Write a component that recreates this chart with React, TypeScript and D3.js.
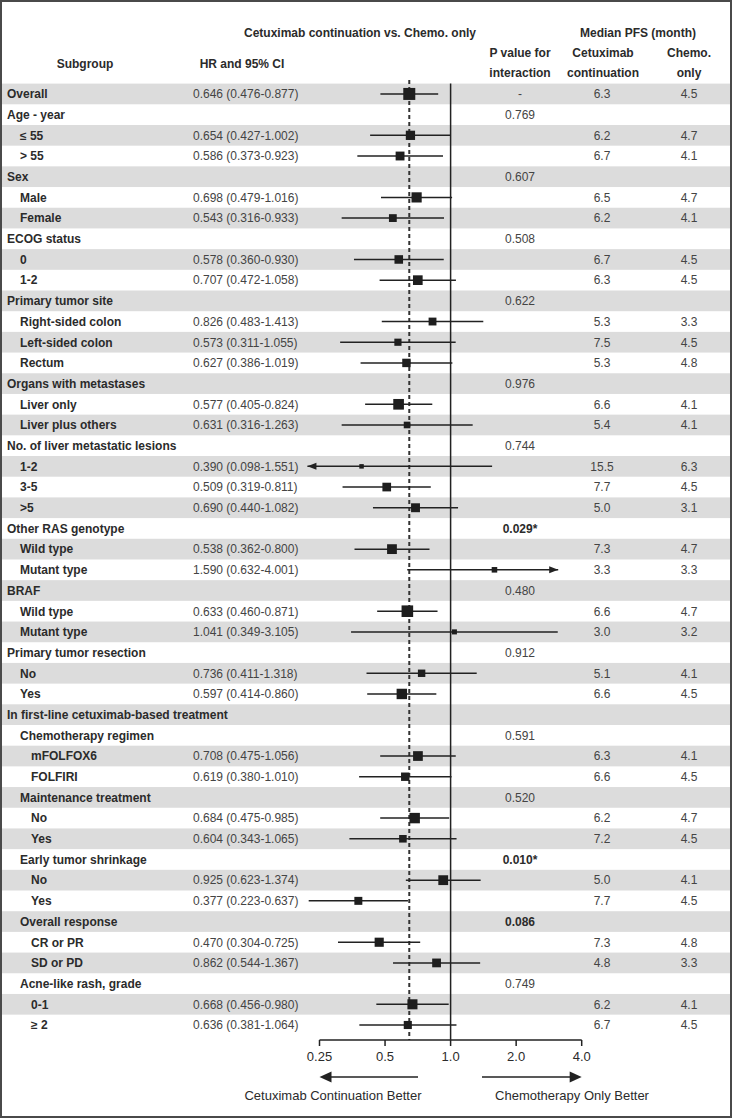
import React from 'react';
import * as d3 from 'd3';

// subgroup table, one entry per row (top to bottom)
const subgroups = [
  'Overall', 'Age - year', '≤ 55', '> 55', 'Sex', 'Male', 'Female',
  'ECOG status', '0', '1-2', 'Primary tumor site', 'Right-sided colon', 'Left-sided colon', 'Rectum',
  'Organs with metastases', 'Liver only', 'Liver plus others',
  'No. of liver metastatic lesions', '1-2', '3-5', '>5',
  'Other RAS genotype', 'Wild type', 'Mutant type', 'BRAF', 'Wild type', 'Mutant type',
  'Primary tumor resection', 'No', 'Yes', 'In first-line cetuximab-based treatment',
  'Chemotherapy regimen', 'mFOLFOX6', 'FOLFIRI', 'Maintenance treatment', 'No', 'Yes',
  'Early tumor shrinkage', 'No', 'Yes', 'Overall response', 'CR or PR', 'SD or PD',
  'Acne-like rash, grade', '0-1', '≥ 2',
];
const depth = [
  0, 0, 1, 1, 0, 1, 1,
  0, 1, 1, 0, 1, 1, 1,
  0, 1, 1,
  0, 1, 1, 1,
  0, 1, 1, 0, 1, 1,
  0, 1, 1, 0,
  1, 2, 2, 1, 2, 2,
  1, 2, 2, 1, 2, 2,
  1, 2, 2,
];
const hrEst = [
  0.646, null, 0.654, 0.586, null, 0.698, 0.543,
  null, 0.578, 0.707, null, 0.826, 0.573, 0.627,
  null, 0.577, 0.631,
  null, 0.390, 0.509, 0.690,
  null, 0.538, 1.590, null, 0.633, 1.041,
  null, 0.736, 0.597, null,
  null, 0.708, 0.619, null, 0.684, 0.604,
  null, 0.925, 0.377, null, 0.470, 0.862,
  null, 0.668, 0.636,
];
const ciLow = [
  0.476, null, 0.427, 0.373, null, 0.479, 0.316,
  null, 0.360, 0.472, null, 0.483, 0.311, 0.386,
  null, 0.405, 0.316,
  null, 0.098, 0.319, 0.440,
  null, 0.362, 0.632, null, 0.460, 0.349,
  null, 0.411, 0.414, null,
  null, 0.475, 0.380, null, 0.475, 0.343,
  null, 0.623, 0.223, null, 0.304, 0.544,
  null, 0.456, 0.381,
];
const ciHigh = [
  0.877, null, 1.002, 0.923, null, 1.016, 0.933,
  null, 0.930, 1.058, null, 1.413, 1.055, 1.019,
  null, 0.824, 1.263,
  null, 1.551, 0.811, 1.082,
  null, 0.800, 4.001, null, 0.871, 3.105,
  null, 1.318, 0.860, null,
  null, 1.056, 1.010, null, 0.985, 1.065,
  null, 1.374, 0.637, null, 0.725, 1.367,
  null, 0.980, 1.064,
];
const pInteraction = [
  '-', '0.769', '', '', '0.607', '', '',
  '0.508', '', '', '0.622', '', '', '',
  '0.976', '', '',
  '0.744', '', '', '',
  '0.029*', '', '', '0.480', '', '',
  '0.912', '', '', '',
  '0.591', '', '', '0.520', '', '',
  '0.010*', '', '', '0.086', '', '',
  '0.749', '', '',
];
const pfsCetux = [
  '6.3', '', '6.2', '6.7', '', '6.5', '6.2',
  '', '6.7', '6.3', '', '5.3', '7.5', '5.3',
  '', '6.6', '5.4',
  '', '15.5', '7.7', '5.0',
  '', '7.3', '3.3', '', '6.6', '3.0',
  '', '5.1', '6.6', '',
  '', '6.3', '6.6', '', '6.2', '7.2',
  '', '5.0', '7.7', '', '7.3', '4.8',
  '', '6.2', '6.7',
];
const pfsChemo = [
  '4.5', '', '4.7', '4.1', '', '4.7', '4.1',
  '', '4.5', '4.5', '', '3.3', '4.5', '4.8',
  '', '4.1', '4.1',
  '', '6.3', '4.5', '3.1',
  '', '4.7', '3.3', '', '4.7', '3.2',
  '', '4.1', '4.5', '',
  '', '4.1', '4.5', '', '4.7', '4.5',
  '', '4.1', '4.5', '', '4.8', '3.3',
  '', '4.1', '4.5',
];
const xTicks = [0.25, 0.5, 1, 2, 4];
const xTickLabels = ['0.25', '0.5', '1.0', '2.0', '4.0'];
const overallHR = 0.646;

const W = 732;
const H = 1119;
const FONT = '"Liberation Sans", Arial, Helvetica, sans-serif';
const TEXT = '#2b2b2b';
const VALUE = '#444';
const BAND = '#dcdcdc';

const App = () => {
  const x = d3.scaleLog().base(2).domain([0.25, 4]).range([319.5, 581.7]);
  const rowH = 20.69;
  const top = 83.6;
  const y = d3.scaleBand<number>()
    .domain(d3.range(subgroups.length))
    .range([top, top + rowH * subgroups.length]);
  const cy = (i: number) => (y(i) as number) + y.bandwidth() / 2;

  // box size from precision of the estimate
  const box = d3.scaleLinear().domain([0.362, 1.637]).range([4.5, 12]);

  const clipLo = 0.22;
  const clipHi = 3.12;
  const axisY = 1040;
  const indentX = [7, 20, 31];

  return (
    <svg width={W} height={H} style={{ position: 'absolute', left: 0, top: 0, background: '#fff' }}
      fontFamily={FONT}>
      {/* alternating row bands */}
      {subgroups.map((_, i) => i % 2 === 0 ? (
        <rect key={'b' + i} x={2} y={y(i)} width={W - 4} height={y.bandwidth()} fill={BAND} />
      ) : null)}

      {/* headers */}
      <g fontWeight="bold" fill={TEXT} fontSize={12} textAnchor="middle">
        <text x={360} y={37}>Cetuximab continuation vs. Chemo. only</text>
        <text x={638} y={37}>Median PFS (month)</text>
        <text x={85} y={68}>Subgroup</text>
        <text x={242} y={68}>HR and 95% CI</text>
        <text x={520} y={57}>P value for</text>
        <text x={520} y={77}>interaction</text>
        <text x={603} y={57}>Cetuximab</text>
        <text x={603} y={77}>continuation</text>
        <text x={689} y={57}>Chemo.</text>
        <text x={689} y={77}>only</text>
      </g>

      {/* reference lines */}
      <line x1={x(1)} x2={x(1)} y1={top} y2={axisY} stroke="#222" strokeWidth={1.5} />
      <line x1={x(overallHR)} x2={x(overallHR)} y1={80} y2={axisY} stroke="#333"
        strokeWidth={2} strokeDasharray="4,3" />

      {/* CI lines and boxes */}
      {subgroups.map((_, i) => {
        const est = hrEst[i];
        const lo = ciLow[i];
        const hi = ciHigh[i];
        if (est == null || lo == null || hi == null) return null;
        const yy = cy(i);
        const x1 = x(Math.max(lo, clipLo));
        const x2 = x(Math.min(hi, clipHi));
        const s = box(1 / Math.log(hi / lo));
        return (
          <g key={'ci' + i}>
            <line x1={x1} x2={x2} y1={yy} y2={yy} stroke="#222" strokeWidth={1.5} />
            {lo < clipLo && (
              <path d={`M${x1},${yy}l9,-3.5l0,7z`} fill="#222" />
            )}
            {hi > clipHi && (
              <path d={`M${x2},${yy}l-9,-3.5l0,7z`} fill="#222" />
            )}
            <rect x={x(est) - s / 2} y={yy - s / 2} width={s} height={s} fill="#1e1e1e" />
          </g>
        );
      })}

      {/* table text */}
      {subgroups.map((name, i) => {
        const yy = cy(i);
        const est = hrEst[i];
        const p = pInteraction[i];
        const pBold = p !== '-' && p !== '' && parseFloat(p) < 0.1;
        return (
          <g key={'t' + i} fontSize={12}>
            <text x={indentX[depth[i]]} y={yy} dy="0.36em" fontWeight="bold" fill={TEXT}>{name}</text>
            {est != null && (
              <text x={193} y={yy} dy="0.36em" fill={VALUE}>
                {`${est.toFixed(3)} (${(ciLow[i] as number).toFixed(3)}-${(ciHigh[i] as number).toFixed(3)})`}
              </text>
            )}
            {p && (
              <text x={520} y={yy} dy="0.36em" textAnchor="middle" fill={pBold ? TEXT : VALUE}
                fontWeight={pBold ? 'bold' : 'normal'}>{p}</text>
            )}
            <text x={602} y={yy} dy="0.36em" textAnchor="middle" fill={VALUE}>{pfsCetux[i]}</text>
            <text x={689} y={yy} dy="0.36em" textAnchor="middle" fill={VALUE}>{pfsChemo[i]}</text>
          </g>
        );
      })}

      {/* x axis */}
      <g>
        <line x1={x(0.25)} x2={x(4)} y1={axisY} y2={axisY} stroke="#222" strokeWidth={1.5} />
        {xTicks.map((t, k) => (
          <g key={'xt' + k}>
            <line x1={x(t)} x2={x(t)} y1={axisY} y2={axisY + 6} stroke="#222" strokeWidth={1.5} />
            <text x={x(t)} y={1061} textAnchor="middle" fontSize={13} fill={TEXT}>{xTickLabels[k]}</text>
          </g>
        ))}
      </g>

      {/* direction arrows */}
      <line x1={x(0.25) + 10} x2={418} y1={1077} y2={1077} stroke="#222" strokeWidth={1.5} />
      <path d={`M${x(0.25)},1077l12,-5.5l0,11z`} fill="#222" />
      <line x1={482} x2={x(4) - 10} y1={1077} y2={1077} stroke="#222" strokeWidth={1.5} />
      <path d={`M${x(4)},1077l-12,-5.5l0,11z`} fill="#222" />
      <text x={333} y={1100} textAnchor="middle" fontSize={13} fill={TEXT}>Cetuximab Continuation Better</text>
      <text x={572} y={1100} textAnchor="middle" fontSize={13} fill={TEXT}>Chemotherapy Only Better</text>

      {/* frame */}
      <rect x={1} y={1} width={W - 2} height={1116} fill="none" stroke="#4a4a4a" strokeWidth={2} />
    </svg>
  );
};

export default App;
